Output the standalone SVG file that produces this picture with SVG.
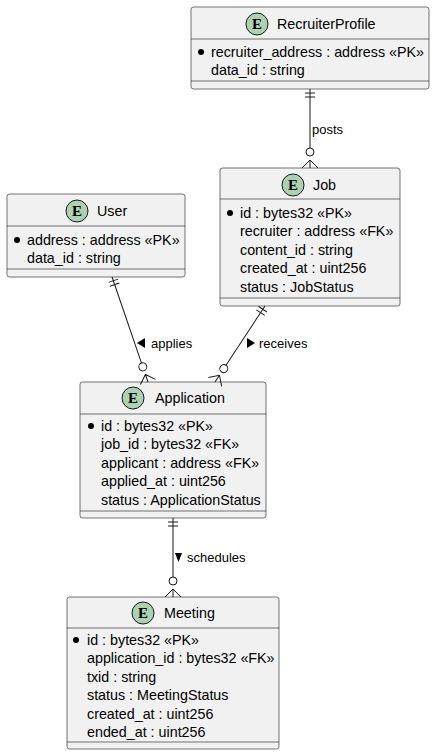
<svg xmlns="http://www.w3.org/2000/svg" width="435" height="755" viewBox="0 0 435 755">
<style>
.box{fill:#F1F1F1;stroke:#181818;stroke-width:0.6}
.div{stroke:#181818;stroke-width:0.6}
.ec{fill:#ADD1B2;stroke:#181818;stroke-width:1}
.el{font-family:"Liberation Serif","Times New Roman",serif;font-weight:bold;font-size:15px;fill:#000;text-anchor:middle}
.t{font-family:"Liberation Sans",Arial,sans-serif;font-size:14.3px;fill:#000}
.lbl{font-family:"Liberation Sans",Arial,sans-serif;font-size:13px;fill:#000}
.ln{stroke:#181818;stroke-width:1;fill:none}
.bul{fill:#000}
</style>
<rect width="435" height="755" fill="#FFFFFF"/>

<g id="RecruiterProfile">
<rect class="box" x="191" y="7" width="238" height="82" rx="2.5"/>
<line class="div" x1="191" y1="39" x2="429" y2="39"/>
<line class="div" x1="191" y1="81" x2="429" y2="81"/>
<circle class="ec" cx="257" cy="24" r="11"/>
<text class="el" x="257" y="29">E</text>
<text class="t" x="277" y="29">RecruiterProfile</text>
<circle class="bul" cx="201" cy="52" r="3"/>
<text class="t" x="211" y="57">recruiter_address : address «PK»</text>
<text class="t" x="211" y="75">data_id : string</text>
</g>

<g id="User">
<rect class="box" x="7" y="194" width="178" height="83" rx="2.5"/>
<line class="div" x1="7" y1="226" x2="185" y2="226"/>
<line class="div" x1="7" y1="269" x2="185" y2="269"/>
<circle class="ec" cx="77" cy="211" r="11"/>
<text class="el" x="77" y="216">E</text>
<text class="t" x="97" y="216">User</text>
<circle class="bul" cx="17" cy="240" r="3"/>
<text class="t" x="27" y="245">address : address «PK»</text>
<text class="t" x="27" y="263">data_id : string</text>
</g>

<g id="Job">
<rect class="box" x="220" y="168" width="180" height="138" rx="2.5"/>
<line class="div" x1="220" y1="199" x2="400" y2="199"/>
<line class="div" x1="220" y1="298" x2="400" y2="298"/>
<circle class="ec" cx="293" cy="185" r="11"/>
<text class="el" x="293" y="190">E</text>
<text class="t" x="313" y="190">Job</text>
<circle class="bul" cx="230" cy="213" r="3"/>
<text class="t" x="240" y="218">id : bytes32 «PK»</text>
<text class="t" x="240" y="236">recruiter : address «FK»</text>
<text class="t" x="240" y="255">content_id : string</text>
<text class="t" x="240" y="273">created_at : uint256</text>
<text class="t" x="240" y="292">status : JobStatus</text>
</g>

<g id="Application">
<rect class="box" x="80" y="382" width="186" height="136" rx="2.5"/>
<line class="div" x1="80" y1="414" x2="266" y2="414"/>
<line class="div" x1="80" y1="511" x2="266" y2="511"/>
<circle class="ec" cx="133" cy="398" r="11"/>
<text class="el" x="133" y="403">E</text>
<text class="t" x="155" y="403">Application</text>
<circle class="bul" cx="91" cy="426" r="3"/>
<text class="t" x="101" y="431">id : bytes32 «PK»</text>
<text class="t" x="101" y="449">job_id : bytes32 «FK»</text>
<text class="t" x="101" y="468">applicant : address «FK»</text>
<text class="t" x="101" y="486">applied_at : uint256</text>
<text class="t" x="101" y="505">status : ApplicationStatus</text>
</g>

<g id="Meeting">
<rect class="box" x="67" y="597" width="212" height="152" rx="2.5"/>
<line class="div" x1="67" y1="628" x2="279" y2="628"/>
<line class="div" x1="67" y1="742" x2="279" y2="742"/>
<circle class="ec" cx="143" cy="613" r="11"/>
<text class="el" x="143" y="618">E</text>
<text class="t" x="164" y="618">Meeting</text>
<circle class="bul" cx="76" cy="640" r="3"/>
<text class="t" x="87" y="645">id : bytes32 «PK»</text>
<text class="t" x="87" y="663">application_id : bytes32 «FK»</text>
<text class="t" x="87" y="682">txid : string</text>
<text class="t" x="87" y="700">status : MeetingStatus</text>
<text class="t" x="87" y="719">created_at : uint256</text>
<text class="t" x="87" y="737">ended_at : uint256</text>
</g>

<g id="connectors">
<!-- RecruiterProfile -> Job -->
<g transform="translate(310,168)">
<line class="ln" x1="0" y1="-79" x2="0" y2="-20"/>
<line class="ln" x1="-5" y1="-75" x2="5" y2="-75"/>
<line class="ln" x1="-5" y1="-71" x2="5" y2="-71"/>
<circle class="ln" cx="0" cy="-16" r="4" style="fill:#FFFFFF"/>
<path class="ln" d="M-8,0 L0,-8 L8,0 M0,-8 L0,0"/>
</g>
<text class="lbl" x="312" y="134">posts</text>

<!-- User -> Application -->
<g transform="translate(148,382) rotate(-18.9)">
<line class="ln" x1="0" y1="-111" x2="0" y2="-20"/>
<line class="ln" x1="-5" y1="-107" x2="5" y2="-107"/>
<line class="ln" x1="-5" y1="-103" x2="5" y2="-103"/>
<circle class="ln" cx="0" cy="-16" r="4" style="fill:#FFFFFF"/>
<path class="ln" d="M-8,0 L0,-8 L8,0 M0,-8 L0,0"/>
</g>
<polygon points="137,343 145,338 145,348" fill="#000"/>
<text class="lbl" x="151" y="348">applies</text>

<!-- Job -> Application -->
<g transform="translate(215,382) rotate(33.3)">
<line class="ln" x1="0" y1="-91" x2="0" y2="-20"/>
<line class="ln" x1="-5" y1="-87" x2="5" y2="-87"/>
<line class="ln" x1="-5" y1="-83" x2="5" y2="-83"/>
<circle class="ln" cx="0" cy="-16" r="4" style="fill:#FFFFFF"/>
<path class="ln" d="M-8,0 L0,-8 L8,0 M0,-8 L0,0"/>
</g>
<polygon points="247,338 255,343 247,348" fill="#000"/>
<text class="lbl" x="259" y="348">receives</text>

<!-- Application -> Meeting -->
<g transform="translate(173,597)">
<line class="ln" x1="0" y1="-79" x2="0" y2="-20"/>
<line class="ln" x1="-5" y1="-75" x2="5" y2="-75"/>
<line class="ln" x1="-5" y1="-71" x2="5" y2="-71"/>
<circle class="ln" cx="0" cy="-16" r="4" style="fill:#FFFFFF"/>
<path class="ln" d="M-8,0 L0,-8 L8,0 M0,-8 L0,0"/>
</g>
<polygon points="175,553 182,553 178.5,562" fill="#000"/>
<text class="lbl" x="187" y="562">schedules</text>
</g>
</svg>
